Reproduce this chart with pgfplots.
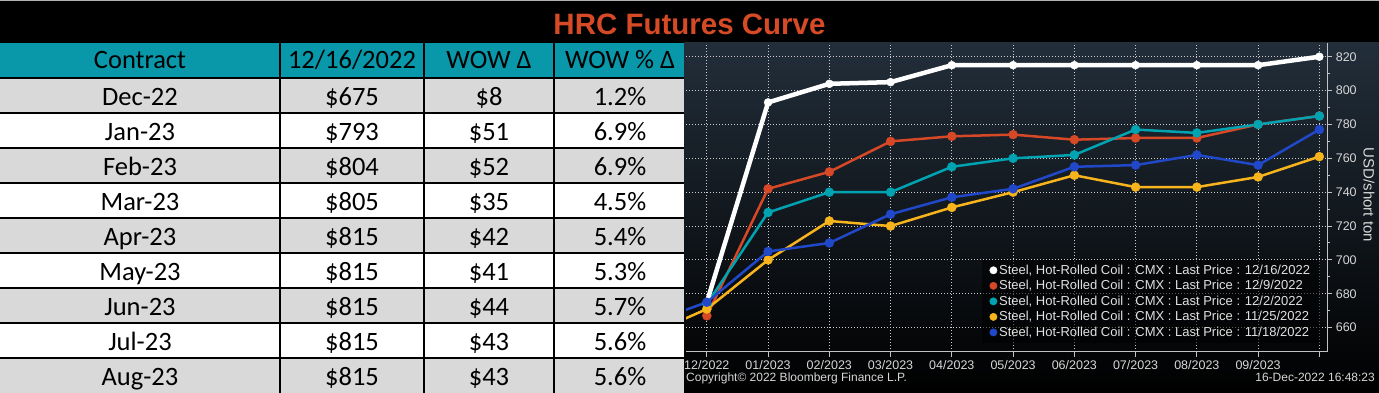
\documentclass[border=0pt]{standalone}
\usepackage{fontspec}
\setmainfont{Liberation Sans}
\newfontfamily\carlito{Carlito}
\usepackage{pgfplots}
\pgfplotsset{compat=1.18}

\definecolor{titlered}{RGB}{214,74,38}
\definecolor{hdrteal}{RGB}{8,152,170}
\definecolor{rowgray}{RGB}{217,217,217}
\definecolor{chartbg}{RGB}{34,46,58}
\definecolor{gridcol}{RGB}{205,205,205}
\definecolor{axiscol}{RGB}{195,195,195}
\definecolor{ticktext}{RGB}{215,215,215}
\definecolor{legtext}{RGB}{225,225,225}
\definecolor{redc}{RGB}{214,72,38}
\definecolor{tealc}{RGB}{0,163,178}
\definecolor{yellowc}{RGB}{248,180,28}
\definecolor{bluec}{RGB}{33,72,200}

\begin{document}
\begin{tikzpicture}
\begin{scope}[x=1pt,y=-1pt]
\path[use as bounding box] (0,0) rectangle (1379,393);
% title bar
\fill[black] (0,0) rectangle (1379,43);
\fill[gray!60] (0,0) rectangle (1379,1.5);
% chart background
\shade[top color=chartbg, bottom color=black] (684,43) rectangle (1379,393);
% table
\fill[hdrteal] (0,43) rectangle (684,78);
\foreach \i in {1,3,5,7,9} {\fill[rowgray] (0,{43+35*\i}) rectangle (684,{78+35*\i});}
\foreach \i in {2,4,6,8} {\fill[white] (0,{43+35*\i}) rectangle (684,{78+35*\i});}
\foreach \i in {1,...,9} {\draw[black, line width=1.1pt] (0,{43+35*\i}) -- (684,{43+35*\i});}
\foreach \xx in {280,424,554} {\draw[black, line width=1.1pt] (\xx,43) -- (\xx,393);}
\begin{scope}[every node/.style={anchor=base, inner sep=0pt, font=\carlito\fontsize{26.5}{30}\selectfont, text=black}]
\node at (140,69) {Contract};
\node at (352,69) {12/16/2022};
\node at (489,69) {WOW Δ};
\node at (620,69) {WOW \% Δ};
\foreach \r/\a/\b/\c/\d in {1/Dec-22/675/8/1.2, 2/Jan-23/793/51/6.9, 3/Feb-23/804/52/6.9, 4/Mar-23/805/35/4.5, 5/Apr-23/815/42/5.4, 6/May-23/815/41/5.3, 7/Jun-23/815/44/5.7, 8/Jul-23/815/43/5.6, 9/Aug-23/815/43/5.6} {
  \node at (140,{43+35*\r+27.5}) {\a};
  \node at (352,{43+35*\r+27.5}) {\$\b};
  \node at (489,{43+35*\r+27.5}) {\$\c};
  \node at (620,{43+35*\r+27.5}) {\d\%};
}
\end{scope}
% title
\node[anchor=base, inner sep=0pt, font=\bfseries\fontsize{29.5}{32}\selectfont, text=titlered] at (689.5,34.3) {HRC Futures Curve};
% footer texts
\node[anchor=base west, inner sep=0pt, font=\fontsize{12}{14}\selectfont, text=ticktext] at (686,381.7) {Copyright© 2022 Bloomberg Finance L.P.};
\node[anchor=base east, inner sep=0pt, font=\fontsize{12}{14}\selectfont, text=ticktext] at (1375,381.7) {16-Dec-2022 16:48:23};
\node[rotate=-90, inner sep=0pt, font=\fontsize{15}{17}\selectfont, text=ticktext] at (1369,195) {USD/short ton};
\end{scope}

\begin{axis}[
  at={(686pt,-351.7pt)}, anchor=south west,
  scale only axis, width=641.3pt, height=308.7pt,
  xmin=-0.34, xmax=10.13, ymin=645.8, ymax=828.1,
  axis x line*=bottom, axis y line*=right,
  axis line style={axiscol, line width=1.2pt},
  xtick={0,...,10},
  xticklabels={12/2022,01/2023,02/2023,03/2023,04/2023,05/2023,06/2023,07/2023,08/2023,09/2023,{}},
  ytick={660,680,...,820}, minor y tick num=1,
  tick align=outside,
  major tick length=5pt, minor tick length=3pt,
  tick style={axiscol, line width=1pt},
  grid=major,
  major grid style={gridcol, line width=0.9pt, dash pattern=on 1.2pt off 1.8pt},
  ticklabel style={font=\fontsize{12.5}{14}\selectfont, text=ticktext},
  /pgf/number format/assume math mode=true,
  legend style={at={(0.989,0.028)}, anchor=south east, fill=black, fill opacity=0.55, text opacity=1, draw=none,
    font=\fontsize{13}{15}\selectfont, text=legtext, inner xsep=8pt, inner ysep=3pt, row sep=0.6pt},
  legend image post style={fill opacity=1, draw opacity=1},
  legend cell align=left,
]
\addlegendimage{only marks, mark=*, mark size=3.7pt, color=white}
\addlegendentry{Steel, Hot-Rolled Coil : CMX : Last Price : 12/16/2022}
\addlegendimage{only marks, mark=*, mark size=3.7pt, color=redc}
\addlegendentry{Steel, Hot-Rolled Coil : CMX : Last Price : 12/9/2022}
\addlegendimage{only marks, mark=*, mark size=3.7pt, color=tealc}
\addlegendentry{Steel, Hot-Rolled Coil : CMX : Last Price : 12/2/2022}
\addlegendimage{only marks, mark=*, mark size=3.7pt, color=yellowc}
\addlegendentry{Steel, Hot-Rolled Coil : CMX : Last Price : 11/25/2022}
\addlegendimage{only marks, mark=*, mark size=3.7pt, color=bluec}
\addlegendentry{Steel, Hot-Rolled Coil : CMX : Last Price : 11/18/2022}

\addplot[forget plot, redc, line width=2.5pt, mark=*, mark size=4.5pt, mark options={line width=0.4pt}] coordinates {
(0,667) (1,742) (2,752) (3,770) (4,773) (5,774) (6,771) (7,772) (8,772) (9,780) (10,785)};
\addplot[forget plot, tealc, line width=2.5pt, mark=*, mark size=4.5pt, mark options={line width=0.4pt}] coordinates {
(0,674) (1,728) (2,740) (3,740) (4,755) (5,760) (6,762) (7,777) (8,775) (9,780) (10,785)};
\addplot[forget plot, white, line width=4.5pt, mark=*, mark size=4pt, mark options={line width=0.4pt}] coordinates {
(0,675) (1,793) (2,804) (3,805) (4,815) (5,815) (6,815) (7,815) (8,815) (9,815) (10,820)};
\addplot[forget plot, yellowc, line width=2.5pt, mark=*, mark size=4.5pt, mark options={line width=0.4pt}] coordinates {
(-1,655) (0,671) (1,700) (2,723) (3,720) (4,731) (5,740) (6,750) (7,743) (8,743) (9,749) (10,761)};
\addplot[forget plot, bluec, line width=2.5pt, mark=*, mark size=4.5pt, mark options={line width=0.4pt}] coordinates {
(-1,662) (0,675) (1,705) (2,710) (3,727) (4,737) (5,742) (6,755) (7,756) (8,762) (9,756) (10,777)};
\end{axis}
\end{tikzpicture}
\end{document}
